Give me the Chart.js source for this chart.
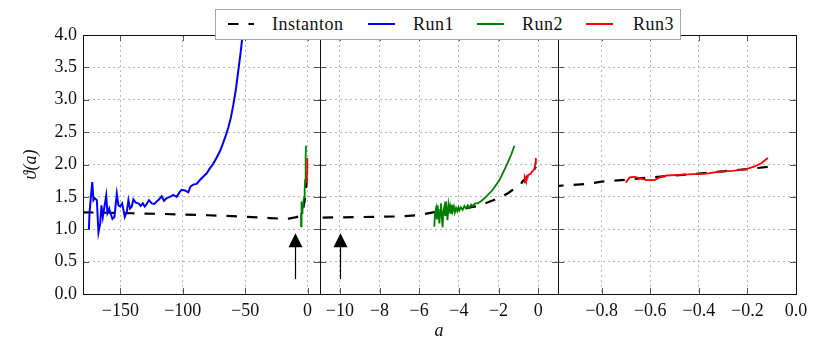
<!DOCTYPE html>
<html>
<head>
<meta charset="utf-8">
<script src="https://cdn.jsdelivr.net/npm/chart.js@4.4.1/dist/chart.umd.min.js"></script>
<style>
    body { margin: 0; background: #fff; }
    #wrap { position: relative; width: 830px; height: 347px; }
    #wrap canvas { position: absolute; left: 0; top: 0; }
    #legend {
        position: absolute; left: 215px; top: 9px; width: 464px; height: 29px;
        border: 1px solid #a8a8a8; background: #fff;
        font-family: "Liberation Serif", "DejaVu Serif", serif; font-size: 18px; color: #111;
        letter-spacing: 0.5px;
    }
    #legend .t { position: absolute; top: 4px; line-height: 20px; }
    #legend .s { position: absolute; top: 13px; width: 27px; height: 2px; }
    #legend svg { position: absolute; top: 12px; }
</style>
</head>
<body>
<div id="wrap">
    <canvas id="panel1" width="830" height="347"></canvas>
    <canvas id="panel2" width="830" height="347"></canvas>
    <canvas id="panel3" width="830" height="347"></canvas>
    <div id="legend">
        <svg width="26" height="4" style="left:12px"><line x1="0" y1="2" x2="26" y2="2" stroke="#000" stroke-width="2.2" stroke-dasharray="10.5 10"/></svg>
        <span class="t" style="left:56px">Instanton</span>
        <div class="s" style="left:152px;background:#0000ff"></div>
        <span class="t" style="left:197px">Run1</span>
        <div class="s" style="left:261px;background:#008000"></div>
        <span class="t" style="left:306px">Run2</span>
        <div class="s" style="left:370px;background:#ff0000"></div>
        <span class="t" style="left:417px">Run3</span>
    </div>
</div>
<script>
// ================= DATA =================
const yTicks = [0, 0.5, 1, 1.5, 2, 2.5, 3, 3.5, 4];
const panel1Ticks = [-150, -100, -50, 0];
const panel2Ticks = [-10, -8, -6, -4, -2, 0];
const panel3Ticks = [-0.8, -0.6, -0.4, -0.2, 0];

const instantonA = [-180, -160, -140, -120, -100, -80, -60, -50, -40, -30, -20, -15, -11, -9, -7, -6, -5.3, -4, -3, -2, -1.5, -1.28, -1, -0.86, -0.8, -0.7, -0.6, -0.5, -0.4, -0.3, -0.2, -0.109];
const instantonV = [1.262, 1.255, 1.247, 1.238, 1.228, 1.216, 1.203, 1.194, 1.183, 1.172, 1.163, 1.165, 1.18, 1.188, 1.198, 1.22, 1.26, 1.31, 1.36, 1.48, 1.56, 1.61, 1.665, 1.70, 1.735, 1.765, 1.80, 1.83, 1.86, 1.895, 1.93, 1.966];

const run1A = [-175.3, -174.8, -172.6, -171.6, -170.5, -168.9, -167.6, -166.2, -165.2, -164.1, -162.8, -161.4, -160.4, -159.0, -158.0, -156.4, -154.8, -152.9, -151.6, -150.2, -148.6, -146.5, -144.9, -143.6, -142.3, -140.9, -139.6, -137.7, -135.6, -133.7, -132.1, -130.5, -128.9, -127.1, -124.9, -122.8, -120.9, -119.1, -116.9, -115.1, -112.9, -110.3, -107.6, -104.9, -102.3, -100.9, -98.3, -95.6, -93.8, -91.7, -88.9, -86.3, -83.7, -81.0, -78.3, -75.7, -73.0, -70.3, -67.7, -65.5, -63.5, -61.5, -59.5, -57.5, -55.5, -53.5, -51.8];
const run1V = [0.99, 1.25, 1.73, 1.45, 1.48, 1.45, 0.95, 1.09, 1.37, 1.19, 1.35, 1.52, 1.25, 1.32, 1.25, 1.16, 1.19, 1.55, 1.37, 1.35, 1.40, 1.19, 1.27, 1.45, 1.32, 1.35, 1.46, 1.41, 1.40, 1.36, 1.40, 1.35, 1.39, 1.45, 1.40, 1.39, 1.43, 1.46, 1.51, 1.44, 1.48, 1.50, 1.53, 1.50, 1.58, 1.61, 1.60, 1.57, 1.66, 1.69, 1.70, 1.76, 1.81, 1.86, 1.94, 2.01, 2.10, 2.20, 2.33, 2.45, 2.57, 2.72, 2.92, 3.15, 3.45, 3.75, 4.05];

const run2A = [-5.24, -5.20, -5.15, -5.11, -5.07, -5.02, -4.98, -4.94, -4.90, -4.86, -4.82, -4.78, -4.73, -4.69, -4.65, -4.61, -4.57, -4.52, -4.48, -4.44, -4.39, -4.35, -4.31, -4.25, -4.20, -4.14, -4.08, -4.02, -3.97, -3.90, -3.81, -3.72, -3.64, -3.55, -3.47, -3.38, -3.30, -3.18, -3.05, -2.85, -2.63, -2.29, -1.95, -1.62, -1.36, -1.20];
const run2V = [1.04, 1.25, 1.32, 1.15, 1.37, 1.20, 1.09, 1.30, 1.40, 1.18, 1.03, 1.28, 1.35, 1.22, 1.43, 1.30, 1.14, 1.38, 1.30, 1.36, 1.25, 1.38, 1.28, 1.35, 1.26, 1.33, 1.28, 1.34, 1.29, 1.34, 1.30, 1.36, 1.32, 1.37, 1.33, 1.38, 1.36, 1.40, 1.40, 1.44, 1.50, 1.61, 1.76, 1.97, 2.15, 2.29];

const run3A = [-0.701, -0.685, -0.664, -0.644, -0.616, -0.582, -0.561, -0.534, -0.479, -0.424, -0.369, -0.314, -0.26, -0.205, -0.17, -0.143, -0.116];
const run3V = [1.72, 1.80, 1.81, 1.79, 1.76, 1.76, 1.80, 1.83, 1.84, 1.85, 1.86, 1.89, 1.90, 1.93, 1.97, 2.02, 2.10];

// arrows marking a = -10 (tail and tip in theta units)
const arrowA = [-10];
const arrowFrom = 0.23;
const arrowTo = 0.94;

// ================= STYLE =================
const FONT = '"Liberation Serif", "DejaVu Serif", serif';
const tickFont = { family: FONT, size: 18 };
const titleFont = { family: FONT, size: 18, style: 'italic' };
const minus = s => String(s).replace('-', '\u2212');

function series(as, vs) {
    return as.map((a, i) => ({ x: a, y: vs[i] }));
}

function buildDatasets() {
    return [
        { label: 'Instanton', data: series(instantonA, instantonV), borderColor: '#000', borderWidth: 2.2, borderDash: [10.5, 10], order: 4 },
        { label: 'Run1', data: series(run1A, run1V), borderColor: '#0000ff', borderWidth: 2, order: 3 },
        { label: 'Run2', data: series(run2A, run2V), borderColor: '#008000', borderWidth: 1.8, order: 2 },
        { label: 'Run3', data: series(run3A, run3V), borderColor: '#ff0000', borderWidth: 1.8, order: 1 }
    ];
}

// ================= PLUGINS =================
const framePlugin = {
    id: 'frame',
    afterDatasetsDraw(chart) {
        const { ctx, chartArea: { left, right, top, bottom }, scales: { x, y } } = chart;
        ctx.save();
        ctx.strokeStyle = '#555';
        ctx.lineWidth = 1;
        ctx.beginPath();
        x.ticks.forEach(t => {
            const px = Math.round(x.getPixelForValue(t.value)) + 0.5;
            ctx.moveTo(px, bottom); ctx.lineTo(px, bottom - 6);
            ctx.moveTo(px, top); ctx.lineTo(px, top + 6);
        });
        y.ticks.forEach(t => {
            const py = Math.round(y.getPixelForValue(t.value)) + 0.5;
            ctx.moveTo(left, py); ctx.lineTo(left + 6, py);
            ctx.moveTo(right, py); ctx.lineTo(right - 6, py);
        });
        ctx.stroke();
        ctx.strokeStyle = '#111';
        ctx.strokeRect(Math.round(left) + 0.5, Math.round(top) + 0.5, Math.round(right - left), Math.round(bottom - top));
        ctx.restore();
    }
};

const arrowPlugin = {
    id: 'arrows',
    afterDatasetsDraw(chart) {
        const { ctx, scales: { x, y } } = chart;
        arrowA.forEach(a => {
            if (a < x.min || a > x.max) return;
            const px = Math.round(x.getPixelForValue(a)) + 0.5;
            const y0 = y.getPixelForValue(arrowFrom);
            const y1 = y.getPixelForValue(arrowTo);
            ctx.save();
            ctx.strokeStyle = '#000';
            ctx.fillStyle = '#000';
            ctx.lineWidth = 1.2;
            ctx.beginPath();
            ctx.moveTo(px, y0);
            ctx.lineTo(px, y1 + 10);
            ctx.stroke();
            ctx.beginPath();
            ctx.moveTo(px, y1);
            ctx.lineTo(px - 7, y1 + 14);
            ctx.lineTo(px + 7, y1 + 14);
            ctx.closePath();
            ctx.fill();
            ctx.restore();
        });
    }
};

// ================= PANELS =================
function makePanel(id, cfg) {
    return new Chart(document.getElementById(id), {
        type: 'line',
        data: { datasets: buildDatasets() },
        options: {
            responsive: false,
            animation: false,
            layout: { padding: { left: cfg.padLeft, right: cfg.padRight, top: 35, bottom: 0 } },
            plugins: { legend: { display: false }, tooltip: { enabled: false } },
            elements: { point: { radius: 0 }, line: { tension: 0 } },
            datasets: { line: { clip: 0 } },
            scales: {
                x: {
                    type: 'linear',
                    min: cfg.min,
                    max: cfg.max,
                    afterBuildTicks: s => { s.ticks = cfg.ticks.map(v => ({ value: v })); },
                    afterFit: s => { s.height = 53; },
                    grid: { color: '#b8b8b8', drawTicks: false },
                    border: { display: false, dash: [2, 3] },
                    ticks: { padding: 6, maxRotation: 0, autoSkip: false, font: tickFont, color: '#111', callback: cfg.fmt },
                    title: cfg.title
                        ? { display: true, text: cfg.title, font: titleFont, color: '#111', padding: { top: 0, bottom: 5 } }
                        : { display: false }
                },
                y: {
                    min: 0,
                    max: 4,
                    afterBuildTicks: s => { s.ticks = yTicks.map(v => ({ value: v })); },
                    afterFit: s => { s.width = cfg.yWidth; },
                    grid: { color: '#b8b8b8', drawTicks: false },
                    border: { display: false, dash: [2, 3] },
                    ticks: { display: cfg.yWidth > 0, padding: 6, font: tickFont, color: '#111', callback: v => v.toFixed(1) },
                    title: cfg.yWidth > 0
                        ? { display: true, text: 'ϑ(a)', font: titleFont, color: '#111', padding: { top: 20, bottom: 0 } }
                        : { display: false }
                }
            }
        },
        plugins: [framePlugin, arrowPlugin]
    });
}

makePanel('panel1', { padLeft: 0, padRight: 510, yWidth: 83, min: -180, max: 10, ticks: panel1Ticks, fmt: v => minus(v) });
makePanel('panel2', { padLeft: 320, padRight: 272, yWidth: 0, min: -11, max: 1, ticks: panel2Ticks, fmt: v => minus(v), title: 'a' });
makePanel('panel3', { padLeft: 558, padRight: 34, yWidth: 0, min: -0.98, max: 0, ticks: panel3Ticks, fmt: v => minus(v.toFixed(1)) });
</script>
</body>
</html>
